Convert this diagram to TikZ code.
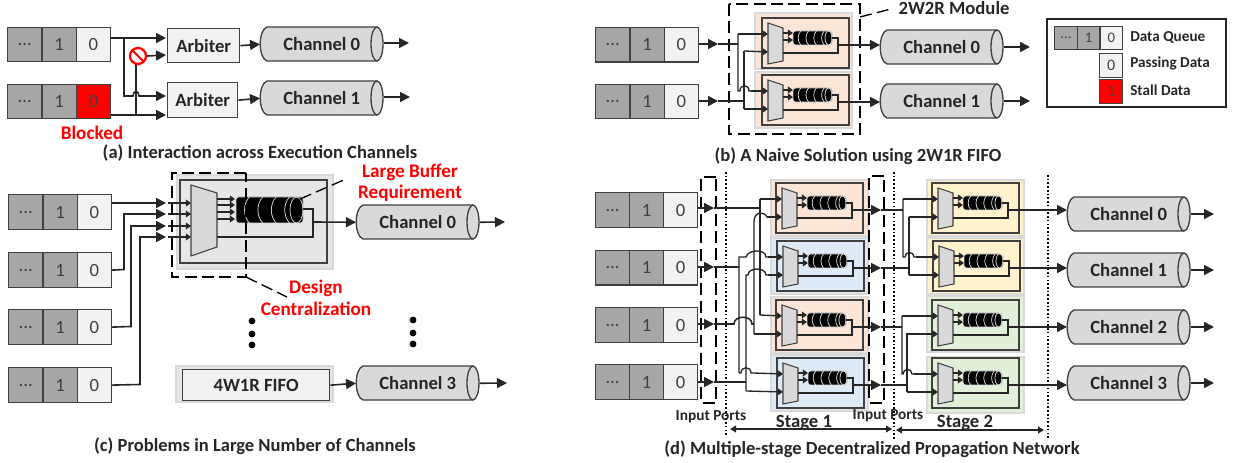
\documentclass[tikz,border=0pt]{standalone}
\usepackage{fontspec}
\setmainfont{Carlito}
\usetikzlibrary{arrows.meta}
\definecolor{ln}{HTML}{404040}
\definecolor{qgray}{HTML}{A6A6A6}
\definecolor{qlight}{HTML}{F2F2F2}
\definecolor{cgray}{HTML}{D9D9D9}
\definecolor{halo}{HTML}{D9D9D9}
\definecolor{peach}{HTML}{FBE5D6}
\definecolor{sky}{HTML}{DEEBF7}
\definecolor{sand}{HTML}{FFF2CC}
\definecolor{leaf}{HTML}{E2F0D9}
\tikzset{
  x=0.75pt,y=-0.75pt,
  cell/.style={draw=ln,line width=0.9pt,inner sep=0pt,anchor=north west,text=ln,font=\fontsize{#1}{#1}\selectfont},
  cell/.default=14pt,
  wire/.style={line width=1.2pt,black!85},
  arr/.style={wire,-{Triangle[length=7.5pt,width=7.5pt]}},
  sarr/.style={line width=1pt,black!85,-{Triangle[length=3.8pt,width=5pt]}},
  swire/.style={line width=1pt,black!85},
  lab/.style={font=\bfseries\fontsize{14pt}{14pt}\selectfont,text=black!85,inner sep=0pt},
  captext/.style={font=\bfseries\fontsize{13.9pt}{14pt}\selectfont,text=black!85,inner sep=0pt},
  redlab/.style={font=\bfseries\fontsize{14.4pt}{14pt}\selectfont,text=red,inner sep=0pt},
  dbox/.style={line width=1pt,black,dash pattern=on 9pt off 4pt},
  dotl/.style={line width=1pt,black,dash pattern=on 1.2pt off 1.6pt},
  tbox/.style={draw=ln,line width=1pt,fill=qlight,inner sep=0pt,font=\bfseries\fontsize{14pt}{14pt}\selectfont,text=black!85},
}
% hop: from x1 to x2 at height y, rising h
\def\hop#1#2#3#4{.. controls (#1,#3-#4) and (#2,#3-#4) .. (#2,#3)}
% queue: name, x, y, cell w, cell h, third colour, font size
\newcommand{\dq}[7]{%
  \node[cell=#7,fill=qgray,minimum width=#4*0.75pt,minimum height=#5*0.75pt] (#1-a) at (#2,#3) {...};
  \node[cell=#7,fill=qgray,minimum width=#4*0.75pt,minimum height=#5*0.75pt] (#1-b) at (#2+#4,#3) {1};
  \node[cell=#7,fill=#6,minimum width=#4*0.75pt,minimum height=#5*0.75pt] (#1) at (#2+2*#4,#3) {0};
}
% channel: name, x1, y1, text
\newcommand{\chan}[4]{%
  \draw[draw=ln,line width=1pt,fill=cgray] (#2+117,#3) -- (#2+7,#3) .. controls (#2-2,#3+3) and (#2-2,#3+31) .. (#2+7,#3+34) -- (#2+117,#3+34);
  \draw[draw=ln,line width=1pt,fill=cgray] (#2+117,#3+17) ellipse [x radius=6,y radius=17];
  \node[lab,minimum width=123*0.75pt,minimum height=34*0.75pt,anchor=north west] (#1) at (#2,#3) {#4};
}
% fifo: x1, x2, y1, y2
\newcommand{\fifo}[4]{%
  \fill[black,rounded corners=2pt] (#1,#3) rectangle (#2,#4);
  \draw[halo,line width=0.5pt,rounded corners=2pt] (#1,#3) rectangle (#2,#4);
  \pgfmathsetmacro{\fk}{((#4)-(#3))/4}
  \foreach \ii in {1,2,3,4}{
    \pgfmathsetmacro{\fx}{(#1)+\ii*((#2)-(#1))/5}
    \draw[cgray,line width=0.55pt] (\fx,#3) .. controls (\fx-\fk,#3+\fk) and (\fx-\fk,#4-\fk) .. (\fx,#4);
  }
  \draw[cgray,line width=0.55pt] (#2-\fk,#3+\fk*2) ellipse [x radius=\fk,y radius=\fk*2];
}
% module: name, outer x, outer y, content x, content y, fill
\newcommand{\fmodule}[6]{%
  \fill[#6,draw=halo,line width=0.9pt] (#2,#3) rectangle (#2+97,#3+56);
  \draw[ln,line width=1.1pt] (#4+5,#5+3) rectangle (#4+92,#5+53);
  \draw[draw=ln,line width=0.8pt,fill=cgray] (#4+11,#5+8) -- (#4+26,#5+13) -- (#4+26,#5+46) -- (#4+11,#5+49) -- cycle;
  \coordinate (#1-i1) at (#4+11,#5+19);
  \coordinate (#1-i2) at (#4+11,#5+37);
  \coordinate (#1-o) at (#4+81,#5+30);
  \fifo{#4+36}{#4+75}{#5+16}{#5+30}
  \draw[sarr] (#4+26,#5+18) -- (#4+36,#5+18);
  \draw[sarr] (#4+26,#5+25) -- (#4+36,#5+25);
  \draw[swire] (#4+75,#5+23) -- (#4+81,#5+23) -- (#4+81,#5+38) -- (#4+26,#5+38);
}
\begin{document}
\begin{tikzpicture}
\useasboundingbox (0,0) rectangle (1236,463);
\fill[white] (0,0) rectangle (1236,463);

%%%% (a)
\dq{aq0}{7}{27}{34.3}{34}{qlight}{14pt}
\dq{aq1}{7}{84}{34.3}{34}{red}{14pt}
\node[tbox,minimum width=72*0.75pt,minimum height=34*0.75pt,anchor=north west] (arb0) at (167,28) {Arbiter};
\node[tbox,minimum width=70*0.75pt,minimum height=35*0.75pt,anchor=north west] (arb1) at (167,82) {Arbiter};
\chan{ach0}{260}{27}{Channel 0}
\chan{ach1}{260}{81}{Channel 1}
\coordinate (ai1) at (166,38);
\coordinate (ai2) at (166,55);
\coordinate (ai3) at (166,96);
\coordinate (ai4) at (166,115);
\coordinate (aout0) at (409,43);
\coordinate (aout1) at (410,97);
\draw[arr] (aq0.east |- ai1) -- (ai1);
\draw[arr] (aq1.east |- ai4) -- (ai4);
\draw[wire] (124,38) -- (124,96) -- (133,96) \hop{133}{139}{96}{6} -- (141,96);
\draw[arr] (141,96) -- (ai3);
\draw[wire] (136,115) -- (136,62);
\node[circle,draw=red,fill=white,line width=1.7pt,minimum size=12pt,inner sep=0pt] (nosign) at (138,56) {};
\draw[red,line width=1.5pt] (133,51) -- (143,61);
\draw[arr] (nosign.east) -- (ai2);
\draw[arr] (arb0.east) -- (ach0.west);
\draw[arr] (arb1.east) -- (ach1.west);
\draw[arr] (ach0.east |- aout0) -- (aout0);
\draw[arr] (ach1.east |- aout1) -- (aout1);
\node[redlab] (blocked) at (92,133) {Blocked};
\node[captext] (capa) at (260,153) {(a) Interaction across Execution Channels};

%%%% (c)
\dq{cq0}{8}{194}{34.3}{35}{qlight}{14pt}
\dq{cq1}{8}{252}{34.3}{35}{qlight}{14pt}
\dq{cq2}{8}{309}{34.3}{35}{qlight}{14pt}
\dq{cq3}{8}{367}{34.3}{35}{qlight}{14pt}
\fill[qlight!95!black,draw=halo,line width=0.9pt] (177,175) rectangle (333,269);
\draw[ln,line width=1.1pt] (180,180) rectangle (327,263);
\draw[draw=ln,line width=0.8pt,fill=cgray] (191,185) -- (217,193) -- (217,247) -- (191,256) -- cycle;
\fifo{236}{303}{197}{223}
\foreach \yy in {199,205,212,219} \draw[sarr] (217,\yy) -- (235,\yy);
\chan{cch0}{356}{205}{Channel 0}
\coordinate (ci1) at (166,203);
\coordinate (ci2) at (166,214);
\coordinate (ci3) at (166,226);
\coordinate (ci4) at (166,237);
\draw[arr] (cq0.east |- ci1) -- (ci1);
\draw[arr] (cq1.east) -- (124,269.5) -- (124,214) -- (ci2);
\draw[arr] (cq2.east) -- (131,326.5) -- (131,226) -- (ci3);
\draw[arr] (cq3.east) -- (140,384.5) -- (140,237) -- (ci4);
\foreach \yy in {203,214,226,237} \draw[sarr] (168,\yy) -- (191,\yy);
\draw[wire] (303,209) -- (313,209) -- (313,237) -- (217,237);
\draw[arr] (313,222) -- (cch0.west);
\coordinate (cout0) at (505,222);
\draw[arr] (cch0.east) -- (cout0);
\draw[dbox] (246,173) -- (172,173) -- (172,277) -- (246,277) -- (246,173);
\draw[dbox] (246,277) -- (287,297);
\draw[dbox] (300,199) -- (346,179);
\node[redlab] (lb1) at (410,172) {Large Buffer};
\node[redlab] (lb2) at (410,193) {Requirement};
\node[redlab] (dc1) at (316,288) {Design};
\node[redlab] (dc2) at (316,309) {Centralization};
\foreach \yy in {321,334,345} \fill[black] (252,\yy) circle [radius=3.4];
\foreach \yy in {320,333,344} \fill[black] (413,\yy) circle [radius=3.4];
\fill[qlight!95!black,draw=halo,line width=0.9pt] (176,366) rectangle (333,402);
\node[tbox,minimum width=147*0.75pt,minimum height=31*0.75pt,anchor=north west] (fw) at (182,369) {4W1R FIFO};
\chan{cch3}{356}{366}{Channel 3}
\draw[arr] (fw.east) -- (cch3.west);
\coordinate (cout3) at (507,383);
\draw[arr] (cch3.east) -- (cout3);
\node[captext] (capc) at (255,446) {(c) Problems in Large Number of Channels};

%%%% (b)
\dq{bq0}{595}{27}{34.3}{34.5}{qlight}{14pt}
\dq{bq1}{595}{84}{34.3}{34}{qlight}{14pt}
\draw[dbox] (729,4) rectangle (860,134);
\fmodule{bm0}{755}{13}{757}{15}{peach}
\fmodule{bm1}{755}{72}{757}{72}{peach}
\chan{bch0}{880}{30}{Channel 0}
\chan{bch1}{880}{84}{Channel 1}
\coordinate (bh0) at (718,44);
\coordinate (bh1) at (718,101);
\draw[arr] (bq0.east |- bh0) -- (bh0);
\draw[arr] (bq1.east |- bh1) -- (bh1);
\draw[wire] (bh1) -- (744,101);
\draw[wire] (bh0) -- (738,44);
\draw[swire] (744,51) -- (744,109);
\draw[sarr] (738,34) -- (bm0-i1);
\draw[swire] (738,34) -- (738,91) -- (740,91) \hop{740}{749}{91}{7} -- (751,91);
\draw[sarr] (751,91) -- (bm1-i1);
\draw[sarr] (744,51) -- (bm0-i2);
\draw[sarr] (744,109) -- (bm1-i2);
\draw[arr] (bm0-o) -- (bch0.west |- bm0-o);
\draw[arr] (bm1-o) -- (bch1.west |- bm1-o);
\coordinate (bout0) at (1030,47);
\coordinate (bout1) at (1030,101);
\draw[arr] (bch0.east |- bout0) -- (bout0);
\draw[arr] (bch1.east |- bout1) -- (bout1);
\draw[dbox] (860,17) -- (891,9);
\node[lab] (mod2w) at (954,8) {2W2R Module};
\node[captext] (capb) at (858,156) {(b) A Naive Solution using 2W1R FIFO};

%%%% legend
\draw[black!85,line width=1pt] (1047,19) rectangle (1226,107);
\dq{lq}{1054}{26}{22.7}{23}{qlight}{11pt}
\node[cell=12pt,fill=qlight,minimum width=23*0.75pt,minimum height=24*0.75pt] (lpass) at (1099,53) {0};
\node[cell=12pt,fill=red,minimum width=23*0.75pt,minimum height=24*0.75pt] (lstall) at (1099,79) {1};
\node[lab,anchor=west,font=\bfseries\fontsize{11.4pt}{12pt}\selectfont] (lt1) at (1130,37) {Data Queue};
\node[lab,anchor=west,font=\bfseries\fontsize{11.4pt}{12pt}\selectfont] (lt2) at (1130,63) {Passing Data};
\node[lab,anchor=west,font=\bfseries\fontsize{11.4pt}{12pt}\selectfont] (lt3) at (1130,90) {Stall Data};

%%%% (d)
\dq{dq0}{595}{192}{34}{35}{qlight}{14pt}
\dq{dq1}{595}{250}{34}{34.5}{qlight}{14pt}
\dq{dq2}{595}{307}{34}{35}{qlight}{14pt}
\dq{dq3}{595}{364}{34}{35}{qlight}{14pt}
\fmodule{s0}{771}{180}{771}{180}{peach}
\fmodule{s1}{771}{238}{772}{238}{sky}
\fmodule{s2}{771}{297}{771}{297}{peach}
\fmodule{s3}{771}{355}{772}{355}{sky}
\fmodule{t0}{927}{180}{927}{180}{sand}
\fmodule{t1}{927}{238}{928}{238}{sand}
\fmodule{t2}{927}{296}{927}{297}{leaf}
\fmodule{t3}{927}{357}{927}{355}{leaf}
% brackets
\draw[dbox] (716,177) -- (701,177) -- (701,403) -- (716,403) -- (716,177);
\draw[dbox] (884,176) -- (869,176) -- (869,403) -- (884,403) -- (884,176);
\draw[dotl] (726,172) -- (726,437);
\draw[dotl] (894,172) -- (894,440);
\draw[dotl] (1048,175) -- (1048,440);
\chan{dch0}{1067}{197}{Channel 0}
\chan{dch1}{1067}{253}{Channel 1}
\chan{dch2}{1067}{310}{Channel 2}
\chan{dch3}{1067}{366}{Channel 3}
\coordinate (dh0) at (714,208);
\coordinate (dh1) at (714,267);
\coordinate (dh2) at (714,324);
\coordinate (dh3) at (714,382);
\draw[arr] (dq0.east |- dh0) -- (dh0);
\draw[arr] (dq1.east |- dh1) -- (dh1);
\draw[arr] (dq2.east |- dh2) -- (dh2);
\draw[arr] (dq3.east |- dh3) -- (dh3);
% row 0
\draw[wire] (dh0) -- (760,208);
\draw[swire] (760,199) -- (760,315);
\draw[sarr] (760,199) -- (s0-i1);
\draw[sarr] (760,315) -- (s2-i1);
% row 2
\draw[wire] (dh2) -- (734,324) \hop{734}{752}{324}{9} -- (754,324);
\draw[swire] (754,334) -- (754,222) .. controls (754,211) and (764,211) .. (767,217);
\draw[sarr] (767,217) -- (s0-i2);
\draw[sarr] (754,334) -- (s2-i2);
% row 1
\draw[wire] (dh1) -- (739,267);
\draw[swire] (739,373) -- (739,257) -- (746,257) \hop{748}{766}{257}{8} -- (768,257);
\draw[sarr] (768,257) -- (s1-i1);
\draw[swire] (739,373) -- (741,373) \hop{741}{751}{373}{7} -- (753,373);
\draw[sarr] (753,373) -- (s3-i1);
% row 3
\draw[wire] (dh3) -- (746,382);
\draw[swire] (746,391) -- (746,275) -- (748,275) \hop{748}{766}{275}{8} -- (768,275);
\draw[sarr] (768,275) -- (s1-i2);
\draw[sarr] (746,391) -- (s3-i2);
% stage outputs
\coordinate (dm0) at (881,210);
\coordinate (dm1) at (881,268);
\coordinate (dm2) at (881,327);
\coordinate (dm3) at (881,385);
\draw[arr] (s0-o) -- (dm0);
\draw[arr] (s1-o) -- (dm1);
\draw[arr] (s2-o) -- (dm2);
\draw[arr] (s3-o) -- (dm3);
\draw[wire] (dm0) -- (903,210);
\draw[wire] (dm1) -- (909,268);
\draw[wire] (dm2) -- (902,327);
\draw[wire] (dm3) -- (907,385);
\draw[swire] (909,217) -- (909,275);
\draw[sarr] (909,217) -- (t0-i2);
\draw[sarr] (909,275) -- (t1-i2);
\draw[swire] (903,199) -- (903,257) -- (905,257) \hop{905}{914}{257}{6} -- (916,257);
\draw[sarr] (903,199) -- (t0-i1);
\draw[sarr] (916,257) -- (t1-i1);
\draw[swire] (907,333) -- (907,392);
\draw[sarr] (907,334) -- (t2-i2);
\draw[sarr] (907,392) -- (t3-i2);
\draw[swire] (902,316) -- (902,374) -- (903,374) \hop{903}{912}{374}{6} -- (914,374);
\draw[sarr] (902,316) -- (t2-i1);
\draw[sarr] (914,374) -- (t3-i1);
\draw[arr] (t0-o) -- (dch0.west |- t0-o);
\draw[arr] (t1-o) -- (dch1.west |- t1-o);
\draw[arr] (t2-o) -- (dch2.west |- t2-o);
\draw[arr] (t3-o) -- (dch3.west |- t3-o);
\coordinate (dout0) at (1214,214);
\coordinate (dout1) at (1214,270);
\coordinate (dout2) at (1214,327);
\coordinate (dout3) at (1214,383);
\draw[arr] (dch0.east |- dout0) -- (dout0);
\draw[arr] (dch1.east |- dout1) -- (dout1);
\draw[arr] (dch2.east |- dout2) -- (dout2);
\draw[arr] (dch3.east |- dout3) -- (dout3);
\node[lab,font=\bfseries\fontsize{11.5pt}{12pt}\selectfont] (ip1) at (711,417) {Input Ports};
\node[lab,font=\bfseries\fontsize{11.5pt}{12pt}\selectfont] (ip2) at (888,416) {Input Ports};
\node[lab] (st1) at (804,423) {Stage 1};
\node[lab] (st2) at (965,423) {Stage 2};
\coordinate (sa1) at (730,429);
\coordinate (sb1) at (892,429);
\coordinate (sa2) at (896,430);
\coordinate (sb2) at (1044,430);
\draw[wire,{Triangle[length=4.5pt,width=5pt]}-{Triangle[length=4.5pt,width=5pt]}] (sa1) -- (sb1);
\draw[wire,{Triangle[length=4.5pt,width=5pt]}-{Triangle[length=4.5pt,width=5pt]}] (sa2) -- (sb2);
\node[captext] (capd) at (872,449) {(d) Multiple-stage Decentralized Propagation Network};
\end{tikzpicture}
\end{document}
